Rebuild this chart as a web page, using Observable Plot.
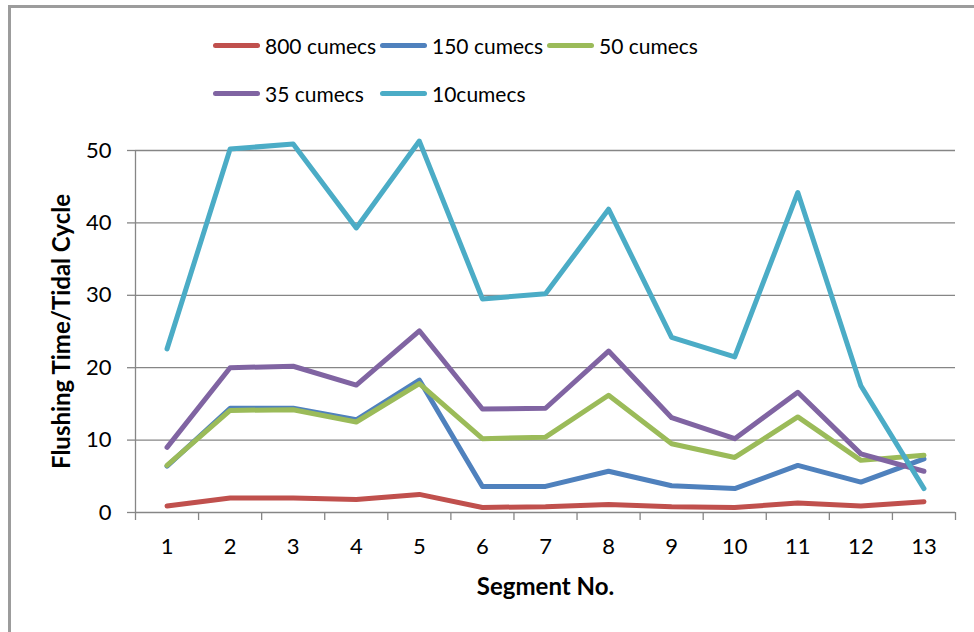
<!DOCTYPE html>
<html>
<head>
<meta charset="utf-8">
<script src="https://cdn.jsdelivr.net/npm/d3@7"></script>
<script src="https://cdn.jsdelivr.net/npm/@observablehq/plot@0.6"></script>
<style>
  html, body { margin: 0; padding: 0; background: #fff; overflow: hidden; width: 974px; height: 632px; }
  body { position: relative; font-family: Lato, "Open Sans", sans-serif; }
  #frame { position: absolute; left: 8px; top: 5px; width: 1100px; height: 800px;
           border-left: 3px solid #9c9c9c; border-top: 3px solid #9c9c9c; box-sizing: border-box; }
  #legend { position: absolute; left: 0; top: 0; width: 974px; height: 130px; }
  .item { position: absolute; display: flex; align-items: center; height: 30px; }
  .sw { width: 47px; height: 5px; border-radius: 3px; margin-right: 5px; }
  .lab { font-size: 21px; color: #000; white-space: nowrap; }
  #chart { position: absolute; left: 0; top: 130px; }
  g[aria-label="y-axis label"] text, g[aria-label="x-axis label"] text { font-weight: bold; font-size: 24px; }
</style>
</head>
<body>
<div id="frame"></div>
<div id="legend"></div>
<div id="chart"></div>
<script>
const segments = [1, 2, 3, 4, 5, 6, 7, 8, 9, 10, 11, 12, 13];
const q800 = [0.9, 2.0, 2.0, 1.8, 2.5, 0.7, 0.8, 1.1, 0.8, 0.7, 1.3, 0.9, 1.5];
const q150 = [6.4, 14.4, 14.4, 12.8, 18.3, 3.6, 3.6, 5.7, 3.7, 3.3, 6.5, 4.2, 7.4];
const q50 = [6.5, 14.1, 14.2, 12.5, 17.8, 10.2, 10.4, 16.2, 9.5, 7.6, 13.2, 7.2, 7.9];
const q35 = [9.0, 20.0, 20.2, 17.6, 25.1, 14.3, 14.4, 22.3, 13.1, 10.2, 16.6, 8.1, 5.7];
const q10 = [22.6, 50.2, 50.9, 39.3, 51.3, 29.5, 30.2, 41.9, 24.2, 21.5, 44.2, 17.5, 3.3];
const seriesNames = ["800 cumecs", "150 cumecs", "50 cumecs", "35 cumecs", "10cumecs"];
const seriesColors = ["#C0504D", "#4F81BD", "#9BBB59", "#8064A2", "#4BACC6"];
const seriesValues = [q800, q150, q50, q35, q10];
const yTicks = [0, 10, 20, 30, 40, 50];

// legend (HTML, above the SVG)
const legendPos = [[213, 45], [380, 45], [547, 45], [213, 93], [380, 93]];
const legend = document.getElementById("legend");
seriesNames.forEach((name, i) => {
  const it = document.createElement("div");
  it.className = "item";
  it.style.left = legendPos[i][0] + "px";
  it.style.top = (legendPos[i][1] - 15) + "px";
  it.innerHTML = `<div class="sw" style="background:${seriesColors[i]}"></div><span class="lab">${name}</span>`;
  legend.appendChild(it);
});

const bounds = d3.range(segments.length + 1).map(i => segments[0] - 0.5 + i);
const gray = "#868686";

const lineMarks = seriesNames.map((name, i) =>
  Plot.line(segments.map((s, j) => ({segment: s, value: seriesValues[i][j]})), {
    x: "segment", y: "value", stroke: seriesColors[i], strokeWidth: 5,
    strokeLinecap: "round", strokeLinejoin: "round"
  })
);

const chart = Plot.plot({
  width: 974,
  height: 502,
  marginLeft: 135,
  marginRight: 19,
  marginTop: 20,
  marginBottom: 120,
  style: {fontFamily: "Lato, 'Open Sans', sans-serif", color: "#000", background: "transparent", overflow: "visible"},
  x: {domain: [bounds[0], bounds[bounds.length - 1]], axis: null},
  y: {domain: [0, 50], axis: null},
  marks: [
    Plot.gridY(yTicks, {stroke: gray, strokeOpacity: 1, strokeWidth: 1.3}),
    Plot.axisY(yTicks, {tickSize: 8, tickPadding: 16, fontSize: 22, stroke: gray, strokeWidth: 1.3,
      label: "Flushing Time/Tidal Cycle", labelArrow: "none", labelAnchor: "center", labelOffset: 83}),
    Plot.ruleX([bounds[0]], {stroke: gray, strokeWidth: 1.3}),
    Plot.axisX(bounds, {tickSize: 8, tickFormat: () => "", stroke: gray, strokeWidth: 1.3, label: null}),
    Plot.axisX(segments, {tickSize: 0, tickPadding: 26, fontSize: 22, label: "Segment No.",
      labelArrow: "none", labelAnchor: "center", labelOffset: 82}),
    ...lineMarks
  ]
});
document.getElementById("chart").appendChild(chart);
</script>
</body>
</html>
